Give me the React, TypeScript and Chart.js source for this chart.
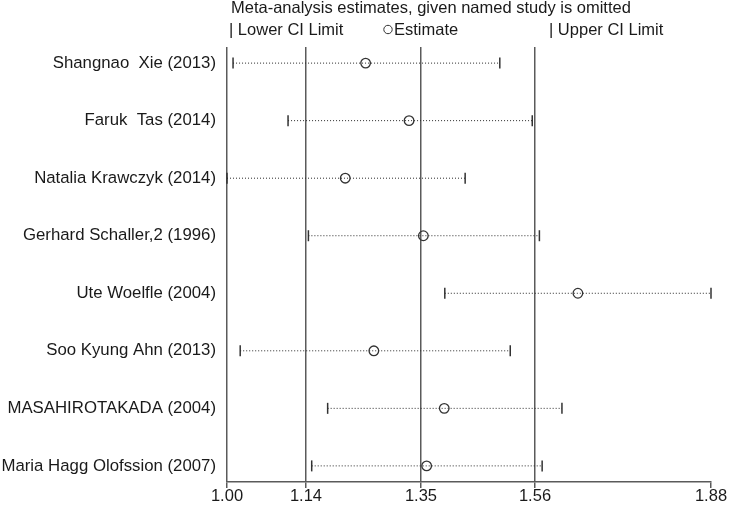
import React, { useEffect, useRef } from "react";
import { Chart, registerables } from "chart.js";

Chart.register(...registerables);

const studies: string[] = [
  "Shangnao  Xie (2013)",
  "Faruk  Tas (2014)",
  "Natalia Krawczyk (2014)",
  "Gerhard Schaller,2 (1996)",
  "Ute Woelfle (2004)",
  "Soo Kyung Ahn (2013)",
  "MASAHIROTAKADA (2004)",
  "Maria Hagg Olofssion (2007)",
];
const lowerCI: number[] = [1.011, 1.111, 1.0, 1.148, 1.396, 1.024, 1.183, 1.154];
const estimate: number[] = [1.252, 1.331, 1.215, 1.357, 1.638, 1.267, 1.395, 1.363];
const upperCI: number[] = [1.496, 1.555, 1.433, 1.568, 1.88, 1.515, 1.609, 1.573];
const xTicks: number[] = [1.0, 1.1436, 1.3527, 1.56, 1.88];
const titleText = "Meta-analysis estimates, given named study is omitted";
const legendLower = "| Lower CI Limit";
const legendEst = "Estimate";
const legendUpper = "| Upper CI Limit";

const FONT_FAMILY = '"Liberation Sans", Arial, sans-serif';
const FS = 16.5;
const FS_Y = 16.8;
const TEXT = "#1a1a1a";
const LINE = "#5a5a5a";
const MARK = "#333333";

const headerPlugin = {
  id: "header",
  afterDraw(chart: any) {
    const ctx = chart.ctx as CanvasRenderingContext2D;
    const left = chart.chartArea.left;
    ctx.save();
    ctx.font = `${FS}px ${FONT_FAMILY}`;
    ctx.fillStyle = TEXT;
    ctx.textAlign = "left";
    ctx.textBaseline = "alphabetic";
    ctx.fillText(titleText, left + 4, 13);
    ctx.fillText(legendLower, left + 2, 35);
    ctx.beginPath();
    ctx.arc(left + 161, 29.5, 4.2, 0, Math.PI * 2);
    ctx.strokeStyle = MARK;
    ctx.lineWidth = 1;
    ctx.stroke();
    ctx.fillText(legendEst, left + 167, 35);
    ctx.fillText(legendUpper, left + 322, 35);
    ctx.restore();
  },
};

export default function App() {
  const ref = useRef<HTMLCanvasElement | null>(null);

  useEffect(() => {
    if (!ref.current) return;
    const ciDatasets = studies.map((_, i) => ({
      type: "scatter" as const,
      data: [
        { x: lowerCI[i], y: i },
        { x: upperCI[i], y: i },
      ],
      showLine: true,
      borderColor: "#2a2a2a",
      borderWidth: 1,
      borderDash: [1, 2],
      pointRadius: 0,
      clip: false as any,
    }));
    const chart = new Chart(ref.current, {
      type: "scatter",
      data: {
        datasets: [
          ...ciDatasets,
          {
            data: lowerCI.map((v, i) => ({ x: v, y: i })),
            pointStyle: "line",
            rotation: 90,
            pointRadius: 5.5,
            borderColor: MARK,
            borderWidth: 1.5,
            clip: false as any,
          },
          {
            data: upperCI.map((v, i) => ({ x: v, y: i })),
            pointStyle: "line",
            rotation: 90,
            pointRadius: 5.5,
            borderColor: MARK,
            borderWidth: 1.5,
            clip: false as any,
          },
          {
            data: estimate.map((v, i) => ({ x: v, y: i })),
            pointStyle: "circle",
            pointRadius: 4.8,
            borderColor: MARK,
            borderWidth: 1.3,
            backgroundColor: "rgba(0,0,0,0)",
            clip: false as any,
          },
        ] as any,
      },
      options: {
        animation: false,
        responsive: false,
        events: [],
        layout: { padding: { top: 47, right: 20, left: 0, bottom: 0 } },
        plugins: {
          legend: { display: false },
          tooltip: { enabled: false },
          title: { display: false },
        },
        scales: {
          x: {
            type: "linear",
            min: 1.0,
            max: 1.88,
            afterBuildTicks: (s: any) => {
              s.ticks = xTicks.map((v) => ({ value: v }));
            },
            afterFit: (s: any) => {
              s.height = 24;
            },
            ticks: {
              autoSkip: false,
              maxRotation: 0,
              padding: -1,
              color: TEXT,
              font: { family: FONT_FAMILY, size: FS },
              callback: (v: any) => Number(v).toFixed(2),
            },
            grid: {
              color: (c: any) => (c.index === xTicks.length - 1 ? "rgba(0,0,0,0)" : LINE),
              tickColor: LINE,
              lineWidth: 1.5,
              tickLength: 6,
            },
            border: { display: true, color: LINE, width: 1.5 },
          },
          y: {
            type: "linear",
            min: -0.28,
            max: 7.28,
            reverse: true,
            afterBuildTicks: (s: any) => {
              s.ticks = studies.map((_, i) => ({ value: i }));
            },
            afterFit: (s: any) => {
              s.width = 227;
            },
            ticks: {
              autoSkip: false,
              padding: 11,
              color: TEXT,
              font: { family: FONT_FAMILY, size: FS_Y },
              callback: (v: any) => studies[Math.round(Number(v))],
            },
            grid: { display: false, drawTicks: false },
            border: { display: false },
          },
        },
      } as any,
      plugins: [headerPlugin],
    });
    return () => chart.destroy();
  }, []);

  return (
    <div style={{ position: "absolute", left: 0, top: 0, width: 731, height: 506, background: "#fff" }}>
      <canvas ref={ref} width={731} height={506} style={{ display: "block" }} />
    </div>
  );
}
